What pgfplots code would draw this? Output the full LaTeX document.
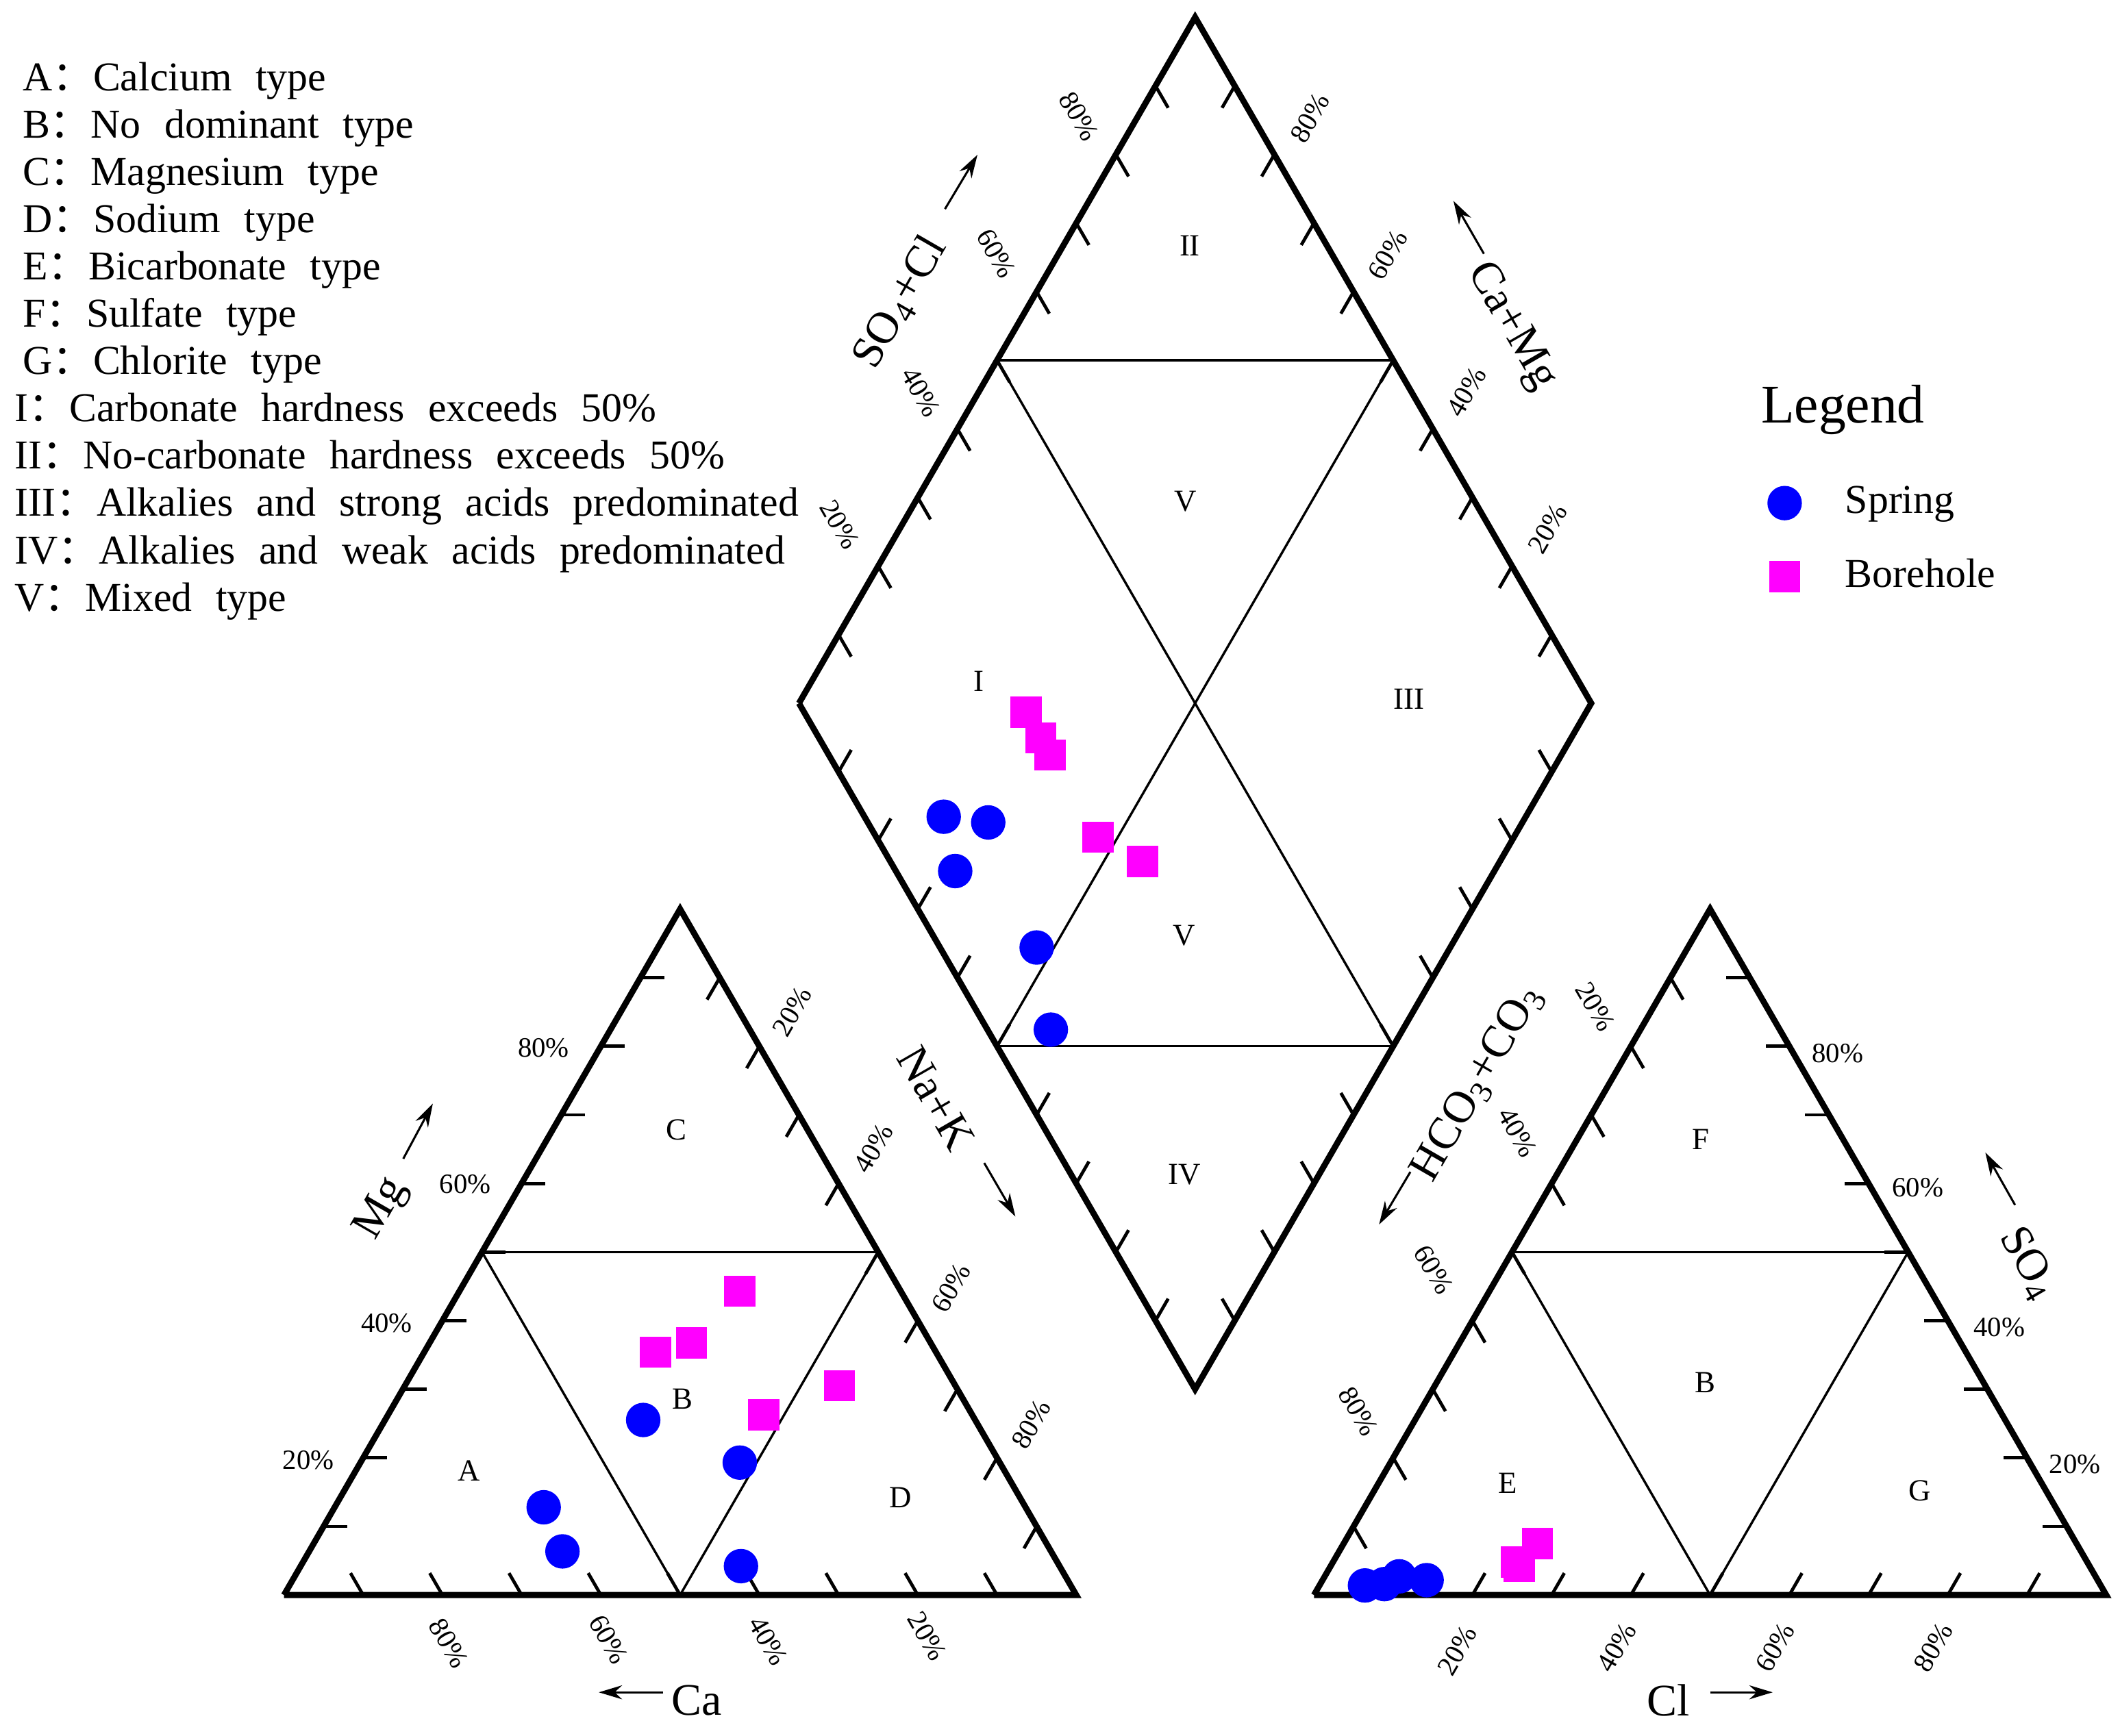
\documentclass[border=0pt]{standalone}
\usepackage{fontspec}
\setmainfont{Liberation Serif}
\newfontfamily\cjk{Noto Sans CJK SC}
\newfontfamily\wide{Liberation Serif}[WordSpace=2.3]
\usepackage{pgfplots}
\usepackage{pgfplotstable}
\pgfplotsset{compat=1.18}
\usetikzlibrary{arrows.meta}

\definecolor{springc}{RGB}{0,0,255}
\definecolor{borec}{RGB}{255,0,255}

% Piper coordinates: triangle side = 100, gap = 30
\pgfplotstableread{
x y
45.34 22.10
57.53 16.72
57.68 3.65
32.78 11.08
35.15 5.51
}\springcat
\pgfplotstableread{
x y
136.44 1.21
138.89 1.38
140.76 2.36
144.22 1.88
}\springan
\pgfplotstableread{
x y
83.27 98.26
88.89 97.54
84.72 91.40
95.00 81.75
96.79 71.38
}\springdia
\pgfplotstableread{
x y
57.53 38.35
51.43 31.85
46.92 30.66
70.09 26.41
60.55 22.76
}\borecat
\pgfplotstableread{
x y
155.54 4.18
155.92 3.66
158.20 6.48
}\borean
\pgfplotstableread{
x y
93.65 111.45
95.52 108.20
96.71 106.07
102.76 95.67
108.38 92.61
}\boredia

\tikzset{
  tl/.style={font=\fontsize{6}{7}\selectfont, inner sep=0pt},
  rg/.style={font=\fontsize{6.6}{8}\selectfont, inner sep=0pt},
  an/.style={font=\fontsize{9.7}{11}\selectfont, inner sep=0pt},
  ar/.style={line width=0.45pt, -{Stealth[length=5pt,width=3pt]}},
  tk/.style={line width=0.7pt},
  tx/.style={font=\wide\fontsize{8.8}{10}\selectfont, inner sep=0pt, anchor=base west},
}

\begin{document}
\begin{tikzpicture}
\begin{axis}[
    scale only axis,
    width=16cm, height=13.102cm,
    xmin=-35.84, xmax=231.74,
    ymin=-17.75, ymax=201.37,
    hide axis,
    clip=false,
    legend style={at={(axis cs:187,141.3)}, anchor=north west, draw=none, fill=none,
        font=\fontsize{8.8}{10}\selectfont, row sep=4.3pt, inner sep=0pt},
    legend image code/.code={\draw[#1] plot coordinates {(0cm,0cm)}; \path (-0.13cm,0cm) (0.38cm,0cm);},
    legend cell align=left,
]
\path (axis cs:-35.84,-17.75) rectangle (axis cs:231.74,201.37);

% outlines
\addplot[line width=1.3pt, line join=miter, forget plot] coordinates {(0,0) (100,0) (50,86.603) (0,0)};
\addplot[line width=1.3pt, line join=miter, forget plot] coordinates {(130,0) (230,0) (180,86.603) (130,0)};
\addplot[line width=1.3pt, line join=miter, forget plot] coordinates {(65,112.583) (115,199.186) (165,112.583) (115,25.981) (65,112.583)};
% inner lines
\addplot[line width=0.5pt, forget plot] coordinates {(25,43.301) (75,43.301)};
\addplot[line width=0.5pt, forget plot] coordinates {(25,43.301) (50,0) (75,43.301)};
\addplot[line width=0.5pt, forget plot] coordinates {(155,43.301) (205,43.301)};
\addplot[line width=0.5pt, forget plot] coordinates {(155,43.301) (180,0) (205,43.301)};
\addplot[line width=0.5pt, forget plot] coordinates {(90,155.885) (140,155.885)};
\addplot[line width=0.5pt, forget plot] coordinates {(90,69.282) (140,69.282)};
\addplot[line width=0.5pt, forget plot] coordinates {(90,155.885) (140,69.282)};
\addplot[line width=0.5pt, forget plot] coordinates {(140,155.885) (90,69.282)};

% ticks every 10%
\pgfplotsinvokeforeach{10,20,30,40,50,60,70,80,90}{
  \draw[tk] (axis cs:{#1/2},{0.8660254*#1}) -- ++(axis direction cs:3,0);
  \draw[tk] (axis cs:#1,0) -- ++(axis direction cs:-1.6,2.77);
  \draw[tk] (axis cs:{100-#1/2},{0.8660254*#1}) -- ++(axis direction cs:-1.6,-2.77);
  \draw[tk] (axis cs:{130+#1/2},{0.8660254*#1}) -- ++(axis direction cs:1.6,-2.77);
  \draw[tk] (axis cs:{130+#1},0) -- ++(axis direction cs:1.6,2.77);
  \draw[tk] (axis cs:{230-#1/2},{0.8660254*#1}) -- ++(axis direction cs:-3,0);
  \draw[tk] (axis cs:{65+#1/2},{112.583+0.8660254*#1}) -- ++(axis direction cs:1.6,-2.77);
  \draw[tk] (axis cs:{165-#1/2},{112.583+0.8660254*#1}) -- ++(axis direction cs:-1.6,-2.77);
  \draw[tk] (axis cs:{65+#1/2},{112.583-0.8660254*#1}) -- ++(axis direction cs:1.6,2.77);
  \draw[tk] (axis cs:{165-#1/2},{112.583-0.8660254*#1}) -- ++(axis direction cs:-1.6,2.77);
}

% samples
\addplot[only marks, mark=*, mark size=3.5pt, color=springc] table {\springcat};
\addlegendentry{Spring}
\addplot[only marks, mark=square*, mark size=3.15pt, color=borec] table {\borecat};
\addlegendentry{Borehole}
\addplot[only marks, mark=*, mark size=3.5pt, color=springc, forget plot] table {\springan};
\addplot[only marks, mark=*, mark size=3.5pt, color=springc, forget plot] table {\springdia};
\addplot[only marks, mark=square*, mark size=3.15pt, color=borec, forget plot] table {\borean};
\addplot[only marks, mark=square*, mark size=3.15pt, color=borec, forget plot] table {\boredia};

% tick labels
\node[tl] at (axis cs:32.76,69.11) {80\%};
\node[tl] at (axis cs:22.87,51.88) {60\%};
\node[tl] at (axis cs:12.97,34.30) {40\%};
\node[tl] at (axis cs:3.07,17.06) {20\%};
\node[tl, rotate=-60] at (axis cs:20.8,-6.1) {80\%};
\node[tl, rotate=-60] at (axis cs:41.0,-5.6) {60\%};
\node[tl, rotate=-60] at (axis cs:61.1,-5.8) {40\%};
\node[tl, rotate=-60] at (axis cs:81.2,-5.2) {20\%};
\node[tl, rotate=60] at (axis cs:64.13,73.66) {20\%};
\node[tl, rotate=60] at (axis cs:74.39,56.40) {40\%};
\node[tl, rotate=60] at (axis cs:84.22,38.80) {60\%};
\node[tl, rotate=60] at (axis cs:94.33,21.57) {80\%};
\node[tl, rotate=-60] at (axis cs:165.5,74.3) {20\%};
\node[tl, rotate=-60] at (axis cs:155.7,58.4) {40\%};
\node[tl, rotate=-60] at (axis cs:145.1,41.1) {60\%};
\node[tl, rotate=-60] at (axis cs:135.6,23.2) {80\%};
\node[tl, rotate=60] at (axis cs:148.1,-7.0) {20\%};
\node[tl, rotate=60] at (axis cs:168.2,-6.6) {40\%};
\node[tl, rotate=60] at (axis cs:188.2,-6.6) {60\%};
\node[tl, rotate=60] at (axis cs:208.2,-6.6) {80\%};
\node[tl] at (axis cs:196.1,68.35) {80\%};
\node[tl] at (axis cs:206.2,51.4) {60\%};
\node[tl] at (axis cs:216.5,33.8) {40\%};
\node[tl] at (axis cs:226.05,16.5) {20\%};
\node[tl, rotate=-60] at (axis cs:100.34,186.69) {80\%};
\node[tl, rotate=-60] at (axis cs:89.93,169.37) {60\%};
\node[tl, rotate=-60] at (axis cs:80.38,151.88) {40\%};
\node[tl, rotate=-60] at (axis cs:70.14,135.15) {20\%};
\node[tl, rotate=60] at (axis cs:129.5,186.5) {80\%};
\node[tl, rotate=60] at (axis cs:139.3,169.2) {60\%};
\node[tl, rotate=60] at (axis cs:149.25,151.9) {40\%};
\node[tl, rotate=60] at (axis cs:159.5,134.6) {20\%};

% region letters
\node[rg] at (axis cs:23.38,15.70) {A};
\node[rg] at (axis cs:50.34,24.74) {B};
\node[rg] at (axis cs:49.49,58.70) {C};
\node[rg] at (axis cs:77.82,12.29) {D};
\node[rg] at (axis cs:154.44,14.16) {E};
\node[rg] at (axis cs:179.35,26.79) {B};
\node[rg] at (axis cs:178.84,57.51) {F};
\node[rg] at (axis cs:206.48,13.14) {G};
\node[rg] at (axis cs:114.33,170.31) {II};
\node[rg] at (axis cs:113.82,138.05) {V};
\node[rg] at (axis cs:87.71,115.36) {I};
\node[rg] at (axis cs:141.98,113.14) {III};
\node[rg] at (axis cs:113.65,83.28) {V};
\node[rg] at (axis cs:113.65,53.07) {IV};

% component names and arrows
\node[an, rotate=60] at (axis cs:12.4,48.7) {Mg};
\draw[ar] (axis cs:15.06,55.08) -- (axis cs:18.79,62.04);
\node[an] at (axis cs:52.1,-13.3) {Ca};
\draw[ar] (axis cs:47.85,-12.28) -- (axis cs:39.74,-12.28);
\node[an, rotate=-60] at (axis cs:82.28,62.71) {Na+K};
\draw[ar] (axis cs:88.38,54.55) -- (axis cs:92.32,47.78);
\node[an, rotate=60] at (axis cs:150.72,64.70) {HCO\textsubscript{3}+CO\textsubscript{3}};
\draw[ar] (axis cs:142.17,53.42) -- (axis cs:138.22,46.78);
\node[an] at (axis cs:174.74,-13.27) {Cl};
\draw[ar] (axis cs:180.0,-12.28) -- (axis cs:187.89,-12.28);
\node[an, rotate=-60] at (axis cs:220.13,41.80) {SO\textsubscript{4}};
\draw[ar] (axis cs:218.49,49.24) -- (axis cs:214.74,55.87);
\node[an, rotate=60] at (axis cs:77.8,163.16) {SO\textsubscript{4}+Cl};
\draw[ar] (axis cs:83.43,174.98) -- (axis cs:87.53,181.83);
\node[an, rotate=-60] at (axis cs:154.88,160.12) {Ca+Mg};
\draw[ar] (axis cs:151.45,169.33) -- (axis cs:147.61,176.0);

% legend title
\node[font=\fontsize{11.7}{13}\selectfont, inner sep=0pt] at (axis cs:196.76,149.66) {Legend};

% type descriptions
\node[tx] at (axis cs:-33.1,189.94) {A{\cjk ：}Calcium type};
\node[tx] at (axis cs:-33.1,183.97) {B{\cjk ：}No dominant type};
\node[tx] at (axis cs:-33.1,178.00) {C{\cjk ：}Magnesium type};
\node[tx] at (axis cs:-33.1,172.02) {D{\cjk ：}Sodium type};
\node[tx] at (axis cs:-33.1,166.05) {E{\cjk ：}Bicarbonate type};
\node[tx] at (axis cs:-33.1,160.08) {F{\cjk ：}Sulfate type};
\node[tx] at (axis cs:-33.1,154.10) {G{\cjk ：}Chlorite type};
\node[tx] at (axis cs:-34.1,148.13) {I{\cjk ：}Carbonate hardness exceeds 50\%};
\node[tx] at (axis cs:-34.1,142.16) {II{\cjk ：}No-carbonate hardness exceeds 50\%};
\node[tx] at (axis cs:-34.1,136.19) {III{\cjk ：}Alkalies and strong acids predominated};
\node[tx] at (axis cs:-34.1,130.21) {IV{\cjk ：}Alkalies and weak acids predominated};
\node[tx] at (axis cs:-34.1,124.24) {V{\cjk ：}Mixed type};
\end{axis}
\end{tikzpicture}
\end{document}
